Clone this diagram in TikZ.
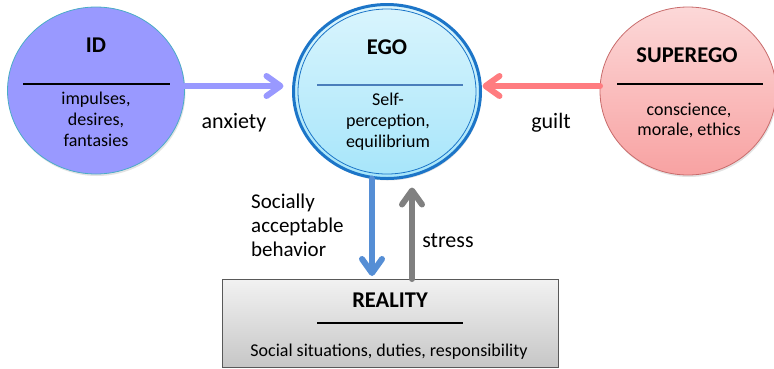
\documentclass[tikz,border=0pt]{standalone}
\usepackage{fontspec}
\setmainfont{Carlito}
\usetikzlibrary{shapes.geometric,arrows.meta,calc,shadows}
\definecolor{idfill}{HTML}{9999FF}
\definecolor{idedge}{HTML}{4BACC6}
\definecolor{egotop}{HTML}{DAF5FD}
\definecolor{egobot}{HTML}{A6E5FA}
\definecolor{egoedge}{HTML}{1C75C8}
\definecolor{egoline}{HTML}{4A7EBB}
\definecolor{suptop}{HTML}{FCD8D8}
\definecolor{supbot}{HTML}{F8A2A2}
\definecolor{supedge}{HTML}{C86B6B}
\definecolor{redarrow}{HTML}{FF7C80}
\definecolor{bluearrow}{HTML}{558ED5}
\definecolor{grayarrow}{HTML}{808080}
\definecolor{realtop}{HTML}{F2F2F2}
\definecolor{realbot}{HTML}{C6C6C6}
\definecolor{realedge}{HTML}{595959}

\begin{document}
\begin{tikzpicture}[x=1pt,y=-1pt,
  psyche/.style={ellipse, inner sep=0pt, outer sep=0pt},
  soft shadow/.style={drop shadow={opacity=0.22, shadow xshift=1pt, shadow yshift=-2pt}},
  title/.style={font=\fontsize{22.5}{26}\selectfont\bfseries, inner sep=0pt},
  body/.style={font=\fontsize{18}{21}\selectfont, align=center, inner sep=0pt},
  label/.style={font=\fontsize{22}{24}\selectfont, inner sep=0pt},
  flow/.style={line width=6pt, line cap=round, line join=round,
    -{Straight Barb[length=14pt, width=20pt, round]}},
  divider/.style={line width=1.6pt}
]
\useasboundingbox (0,0) rectangle (774,368);

% the three circles of the psyche
\node[psyche, soft shadow, fill=idfill, draw=idedge, line width=0.8pt,
      minimum width=177pt, minimum height=167pt] (id) at (96,90.5) {};
\node[psyche, soft shadow, top color=egotop, bottom color=egobot, draw=egoedge,
      line width=3pt, minimum width=187pt, minimum height=174pt] (ego) at (387,91.5) {};
\draw[egoedge, line width=0.8pt] (ego.center) ellipse [x radius=89pt, y radius=82.5pt];
\node[psyche, soft shadow, top color=suptop, bottom color=supbot, draw=supedge,
      line width=0.8pt, minimum width=176pt, minimum height=168pt] (sup) at (688,91) {};

% the outside world
\node[rectangle, top color=realtop, bottom color=realbot, draw=realedge, line width=0.8pt,
      minimum width=336pt, minimum height=88pt, inner sep=0pt, outer sep=0pt] (reality) at (390,323) {};

% headings, dividers and contents
\node[title] (idtitle) at (96,45) {ID};
\draw[divider] ($(id.center)+(-73,-6.5)$) -- ($(id.center)+(74,-6.5)$);
\node[body] (idtext) at (96,119) {impulses,\\desires,\\fantasies};

\node[title] (egotitle) at (387,47) {EGO};
\draw[divider, egoline] ($(ego.center)+(-70,-6.5)$) -- ($(ego.center)+(76,-6.5)$);
\node[body] (egotext) at (388,122) {Self-\\perception,\\equilibrium};

\node[title] (suptitle) at (687,55.5) {SUPEREGO};
\draw[divider] ($(sup.center)+(-71,-7)$) -- ($(sup.center)+(75,-7)$);
\node[body, font=\fontsize{18}{20}\selectfont] (suptext) at (689,120) {conscience,\\morale, ethics};

\node[title] (realtitle) at (390,300) {REALITY};
\draw[divider] ($(reality.center)+(-73,0)$) -- ($(reality.center)+(73,0)$);
\node[body] (realtext) at (389,352) {Social situations, duties, responsibility};

% influences between the parts
\draw[flow, draw=idfill, shorten >=10pt] ([yshift=4.5pt]id.east) -- ([yshift=5.5pt]ego.west);
\draw[flow, draw=redarrow, shorten >=2pt] ([yshift=5pt]sup.west) -- ([yshift=5.5pt]ego.east);
\draw[flow, draw=bluearrow, shorten >=3pt] ([xshift=-15pt]ego.south) -- ([xshift=-18pt]reality.north);
\draw[flow, draw=grayarrow, shorten >=9pt] ([xshift=22pt]reality.north) -- ([xshift=25pt]ego.south);

% arrow labels
\node[label] (anxiety) at (234,123) {anxiety};
\node[label] (guilt) at (551,123) {guilt};
\node[label] (stress) at (448,241) {stress};
\node[label, font=\fontsize{21}{24}\selectfont, align=left, anchor=west] (social) at (251,225)
  {Socially\\acceptable\\behavior};
\end{tikzpicture}
\end{document}
